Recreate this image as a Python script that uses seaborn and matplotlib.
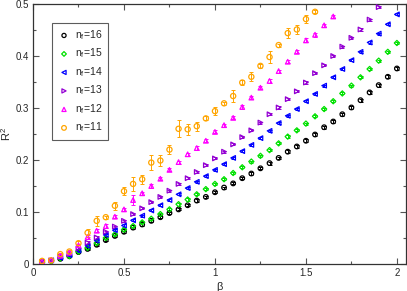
import matplotlib
matplotlib.use('Agg')
import matplotlib.pyplot as plt
import seaborn as sns
from matplotlib.ticker import MultipleLocator

# beta grid
beta = [0.05, 0.10, 0.15, 0.20, 0.25, 0.30, 0.35, 0.40, 0.45, 0.50,
        0.55, 0.60, 0.65, 0.70, 0.75, 0.80, 0.85, 0.90, 0.95, 1.00,
        1.05, 1.10, 1.15, 1.20, 1.25, 1.30, 1.35, 1.40, 1.45, 1.50,
        1.55, 1.60, 1.65, 1.70, 1.75, 1.80, 1.85, 1.90, 1.95, 2.00]

# R^2 for each n_f
r2_16 = [0.003, 0.006, 0.010, 0.015, 0.023, 0.029, 0.037, 0.046, 0.054, 0.062,
         0.070, 0.076, 0.083, 0.090, 0.098, 0.105, 0.113, 0.122, 0.129, 0.138,
         0.147, 0.155, 0.165, 0.174, 0.184, 0.194, 0.204, 0.216, 0.226, 0.237,
         0.249, 0.263, 0.274, 0.288, 0.301, 0.315, 0.330, 0.344, 0.360, 0.376]
r2_15 = [0.003, 0.006, 0.011, 0.015, 0.024, 0.031, 0.040, 0.050, 0.057, 0.066,
         0.073, 0.080, 0.087, 0.096, 0.105, 0.115, 0.124, 0.134, 0.144, 0.154,
         0.163, 0.175, 0.186, 0.197, 0.208, 0.219, 0.232, 0.245, 0.257, 0.270,
         0.284, 0.298, 0.313, 0.328, 0.343, 0.359, 0.375, 0.391, 0.408, 0.425]
r2_14 = [0.004, 0.007, 0.012, 0.017, 0.026, 0.035, 0.045, 0.056, 0.065, 0.074,
         0.084, 0.093, 0.103, 0.113, 0.123, 0.134, 0.146, 0.158, 0.169, 0.181,
         0.192, 0.204, 0.217, 0.229, 0.242, 0.256, 0.271, 0.285, 0.298, 0.313,
         0.327, 0.343, 0.359, 0.375, 0.392, 0.408, 0.426, 0.443, 0.461, 0.480]
r2_13 = [0.004, 0.007, 0.014, 0.019, 0.030, 0.041, 0.051, 0.062, 0.072, 0.083,
         0.096, 0.107, 0.119, 0.129, 0.141, 0.154, 0.165, 0.177, 0.190, 0.203,
         0.216, 0.230, 0.244, 0.257, 0.272, 0.288, 0.301, 0.317, 0.332, 0.349,
         0.367, 0.382, 0.400, 0.418, 0.435, 0.451, 0.470, 0.494]
r2_12 = [0.005, 0.008, 0.016, 0.022, 0.036, 0.052, 0.064, 0.073, 0.091, 0.105,
         0.123, 0.136, 0.150, 0.164, 0.181, 0.196, 0.211, 0.223, 0.237, 0.254,
         0.267, 0.281, 0.302, 0.320, 0.339, 0.352, 0.371, 0.389, 0.408, 0.430,
         0.441, 0.459, 0.476]
r2_11 = [0.006, 0.007, 0.019, 0.024, 0.040, 0.060, 0.083, 0.090, 0.112, 0.140,
         0.154, 0.163, 0.195, 0.199, 0.220, 0.260, 0.259, 0.265, 0.280, 0.294,
         0.309, 0.323, 0.349, 0.360, 0.381, 0.398, 0.421, 0.444, 0.451, 0.471,
         0.485]

# error bars
err_16 = [0.002, 0.002, 0.002, 0.002, 0.002, 0.002, 0.002, 0.002, 0.002, 0.002,
          0.002, 0.002, 0.002, 0.002, 0.002, 0.002, 0.002, 0.003, 0.002, 0.002,
          0.002, 0.002, 0.002, 0.003, 0.002, 0.003, 0.002, 0.003, 0.003, 0.003,
          0.003, 0.003, 0.003, 0.003, 0.003, 0.003, 0.003, 0.003, 0.003, 0.003]
err_15 = [0.002, 0.002, 0.002, 0.002, 0.002, 0.002, 0.002, 0.002, 0.002, 0.003,
          0.002, 0.002, 0.002, 0.002, 0.002, 0.003, 0.002, 0.002, 0.002, 0.002,
          0.002, 0.002, 0.002, 0.002, 0.002, 0.002, 0.002, 0.003, 0.002, 0.002,
          0.002, 0.002, 0.002, 0.002, 0.002, 0.002, 0.002, 0.002, 0.002, 0.002]
err_14 = [0.002, 0.002, 0.002, 0.002, 0.002, 0.002, 0.002, 0.002, 0.002, 0.002,
          0.002, 0.002, 0.002, 0.002, 0.002, 0.002, 0.002, 0.002, 0.002, 0.002,
          0.002, 0.002, 0.002, 0.002, 0.002, 0.002, 0.002, 0.002, 0.002, 0.002,
          0.002, 0.002, 0.002, 0.002, 0.002, 0.002, 0.002, 0.002, 0.002, 0.002]
err_13 = [0.002, 0.002, 0.002, 0.002, 0.002, 0.003, 0.002, 0.002, 0.002, 0.002,
          0.002, 0.002, 0.002, 0.002, 0.002, 0.002, 0.002, 0.002, 0.002, 0.002,
          0.002, 0.002, 0.002, 0.002, 0.002, 0.002, 0.002, 0.002, 0.002, 0.002,
          0.002, 0.002, 0.002, 0.002, 0.002, 0.002, 0.002, 0.002]
err_12 = [0.002, 0.002, 0.003, 0.003, 0.003, 0.004, 0.003, 0.003, 0.003, 0.003,
          0.010, 0.003, 0.003, 0.003, 0.003, 0.003, 0.003, 0.003, 0.003, 0.003,
          0.003, 0.003, 0.003, 0.003, 0.003, 0.004, 0.003, 0.003, 0.003, 0.004,
          0.004, 0.003, 0.003]
err_11 = [0.003, 0.002, 0.003, 0.003, 0.004, 0.008, 0.010, 0.003, 0.008, 0.008,
          0.014, 0.009, 0.014, 0.011, 0.009, 0.016, 0.010, 0.009, 0.004, 0.008,
          0.003, 0.012, 0.004, 0.009, 0.004, 0.011, 0.003, 0.009, 0.009, 0.008,
          0.003]

labels = ['n$_\\mathregular{f}$=16', 'n$_\\mathregular{f}$=15', 'n$_\\mathregular{f}$=14',
          'n$_\\mathregular{f}$=13', 'n$_\\mathregular{f}$=12', 'n$_\\mathregular{f}$=11']
series = [r2_16, r2_15, r2_14, r2_13, r2_12, r2_11]
errors = [err_16, err_15, err_14, err_13, err_12, err_11]
colors = ['#000000', '#00e000', '#0000ff', '#9400d3', '#ff00ff', '#ffa500']
markers = ['o', 'D', '<', '>', '^', 'o']
sizes = [11, 7, 11, 11, 11, 14]

sns.set_style('ticks')
plt.rcParams['font.family'] = ['Liberation Sans', 'DejaVu Sans']
plt.rcParams['mathtext.fontset'] = 'custom'
plt.rcParams['mathtext.rm'] = 'Liberation Sans'

fig = plt.figure(figsize=(4.07, 2.91), dpi=100)
ax = fig.add_axes([33 / 407, 27 / 291, 373 / 407, 260 / 291])

for y, e, lab, col, m, s in zip(series, errors, labels, colors, markers, sizes):
    x = beta[:len(y)]
    ax.errorbar(x, y, yerr=e, fmt='none', ecolor=col, elinewidth=0.7,
                capsize=1.6, capthick=0.7, zorder=2)
    sns.scatterplot(x=x, y=y, marker=m, s=s, color=col, facecolor='none',
                    edgecolor=col, linewidth=0.9, label=lab, ax=ax, zorder=3)

ax.set_xlim(0, 2.05)
ax.set_ylim(0, 0.5)
ax.xaxis.set_minor_locator(MultipleLocator(0.25))
ax.yaxis.set_minor_locator(MultipleLocator(0.05))
ax.set_xticks([0, 0.5, 1, 1.5, 2])
ax.set_xticklabels(['0', '0.5', '1', '1.5', '2'])
ax.set_yticks([0, 0.1, 0.2, 0.3, 0.4, 0.5])
ax.set_yticklabels(['0', '0.1', '0.2', '0.3', '0.4', '0.5'])
ax.tick_params(which='both', direction='in', top=True, right=True, color='#555555')
ax.tick_params(which='major', length=4, width=0.8, labelsize=7, pad=3)
ax.tick_params(which='minor', length=2, width=0.8)
for sp in ax.spines.values():
    sp.set_linewidth(0.9)
    sp.set_color('#333333')

ax.set_xlabel('β', fontsize=8, labelpad=3)
ax.set_ylabel('R$^\\mathregular{2}$', fontsize=8, labelpad=2)

leg = ax.legend(loc='upper left', bbox_to_anchor=(0.051, 0.927), fontsize=7.5,
                frameon=True, fancybox=False, edgecolor='#333333',
                borderaxespad=0, handletextpad=0.4, labelspacing=0.45,
                borderpad=0.5, handlelength=1.3, markerscale=0.9)
leg.get_frame().set_linewidth(0.8)

plt.savefig('out.png', dpi=100)
